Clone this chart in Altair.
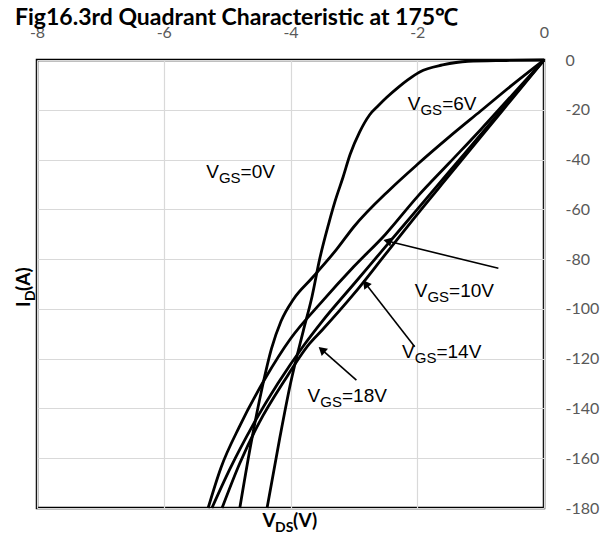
import math
import altair as alt
import pandas as pd

# ---- measured curves: drain-source voltage (V) vs drain current (A) ----
vds_0v = [0, -0.6, -1.2, -1.6, -1.96, -2.15, -2.3, -2.48, -2.62, -2.75, -2.91, -3.06,
          -3.17, -3.30, -3.40, -3.54, -3.66, -3.80, -4.00, -4.17, -4.37]
id_0v = [0, -0.2, -0.5, -2.0, -4.8, -8.0, -11.0, -15.0, -18.5, -22.0, -29.0, -38.0,
         -47.0, -57.0, -66.0, -80.0, -95.0, -109.0, -130.0, -152.0, -180.0]

vds_6v = [0, -0.5, -1.0, -1.5, -2.0, -2.43, -3.0, -3.27, -3.66, -3.95, -4.15, -4.3,
          -4.45, -4.63, -4.8]
id_6v = [0, -10, -20.5, -31, -42, -52, -67, -76, -87.6, -96, -105, -116,
         -132, -155, -180]

vds_10v = [0, -0.5, -1.0, -1.5, -2.0, -2.5, -3.0, -3.5, -4.0, -4.4, -4.8, -5.1, -5.3]
id_10v = [0, -14, -28, -41.5, -55, -70, -83, -97, -112, -128, -147, -164, -180]

vds_14v = [0, -0.5, -1.0, -1.5, -2.0, -2.5, -3.0, -3.5, -3.8, -4.2, -4.6, -4.95, -5.24]
id_14v = [0, -15, -30, -45, -60, -75, -90, -105, -115, -130, -147, -164, -180]

vds_18v = [0, -0.5, -1.0, -1.5, -2.0, -2.5, -3.0, -3.5, -3.7, -4.1, -4.5, -4.8, -5.08]
id_18v = [0, -15.5, -31, -46.5, -62, -78, -94, -108.5, -114, -129, -146, -162, -180]

curve_names = ["0V", "6V", "10V", "14V", "18V"]
curve_vds = [vds_0v, vds_6v, vds_10v, vds_14v, vds_18v]
curve_id = [id_0v, id_6v, id_10v, id_14v, id_18v]

# ---- annotations: label anchors (left edge / baseline) and arrows ----
label_values = ["=0V", "=6V", "=10V", "=14V", "=18V"]
label_vds = [-5.33, -2.15, -2.04, -2.24, -3.73]
label_id = [-47.4, -20.1, -95.2, -119.7, -137.4]

arrow_tail_vds = [-0.72, -2.04, -2.96]
arrow_tail_id = [-83.7, -115.2, -128.6]
arrow_head_vds = [-2.54, -2.86, -3.56]
arrow_head_id = [-72.3, -88.4, -115.2]

x_ticks = [-8, -6, -4, -2, 0]
y_ticks = [0, -20, -40, -60, -80, -100, -120, -140, -160, -180]

TITLE = "Fig16.3rd Quadrant Characteristic at 175℃"

# ---- layout / style ----
W, H = 507, 448
X_DOM, Y_DOM = [-8, 0], [-180, 0]
PX_PER_V = W / (X_DOM[1] - X_DOM[0])
PX_PER_A = H / (Y_DOM[1] - Y_DOM[0])
TICK_FONT = "Lato"
LABEL_FONT = "Liberation Sans"
MAIN_SIZE, SUB_SIZE = 19, 15
V_WIDTH = 12.7
GS_WIDTH = 21.7

xs = alt.Scale(domain=X_DOM, nice=False, zero=False)
ys = alt.Scale(domain=Y_DOM, nice=False, zero=False)

rows = []
for name, vv, ii in zip(curve_names, curve_vds, curve_id):
    for v, i in zip(vv, ii):
        rows.append({"curve": name, "vds": v, "id": i})
curves_df = pd.DataFrame(rows)

curves = alt.Chart(curves_df).mark_line(
    color="black", strokeWidth=2.8, interpolate="monotone"
).encode(
    x=alt.X("vds:Q", scale=xs, axis=alt.Axis(
        orient="top", values=x_ticks, grid=True, ticks=False, domain=False,
        labelFlush=False, labelOverlap=False, labelPadding=20, title=None,
        labelExpr="'' + datum.value")),
    y=alt.Y("id:Q", scale=ys, axis=alt.Axis(
        orient="right", values=y_ticks, grid=True, ticks=False, domain=False,
        labelFlush=False, labelOverlap=False, labelPadding=21, labelAlign="left",
        title=None, labelExpr="'' + datum.value")),
    detail="curve:N",
)

# label text pieces: "V", subscript "GS", then "=..."
lab_df = pd.DataFrame({"vds": label_vds, "id": label_id, "rest": label_values})
lab_base = alt.Chart(lab_df).encode(x=alt.X("vds:Q", scale=xs), y=alt.Y("id:Q", scale=ys))
lab_v = lab_base.mark_text(align="left", baseline="alphabetic", font=LABEL_FONT,
                           fontSize=MAIN_SIZE, color="black").encode(text=alt.value("V"))
lab_gs = lab_base.mark_text(align="left", baseline="alphabetic", font=LABEL_FONT,
                            fontSize=SUB_SIZE, color="black", dx=V_WIDTH, dy=5
                            ).encode(text=alt.value("GS"))
lab_rest = lab_base.mark_text(align="left", baseline="alphabetic", font=LABEL_FONT,
                              fontSize=MAIN_SIZE, color="black", dx=V_WIDTH + GS_WIDTH
                              ).encode(text="rest:N")

# arrows: shaft + triangular head oriented along the shaft in screen space
HEAD_BACK = 4.5
arr_rows = []
for tx, ty, hx, hy in zip(arrow_tail_vds, arrow_tail_id, arrow_head_vds, arrow_head_id):
    dxp = (hx - tx) * PX_PER_V
    dyp = -(hy - ty) * PX_PER_A
    length = math.hypot(dxp, dyp)
    ux, uy = dxp / length, dyp / length
    ang = math.degrees(math.atan2(ux, -uy)) % 360
    cx = hx - ux * HEAD_BACK / PX_PER_V
    cy = hy + uy * HEAD_BACK / PX_PER_A
    arr_rows.append({"tx": tx, "ty": ty, "cx": cx, "cy": cy, "ang": ang})
arr_df = pd.DataFrame(arr_rows)

shafts = alt.Chart(arr_df).mark_rule(color="black", strokeWidth=1.6).encode(
    x=alt.X("tx:Q", scale=xs), y=alt.Y("ty:Q", scale=ys),
    x2="cx:Q", y2="cy:Q")
heads = alt.Chart(arr_df).mark_point(shape="triangle-up", filled=True, color="black",
                                     opacity=1, size=90).encode(
    x=alt.X("cx:Q", scale=xs), y=alt.Y("cy:Q", scale=ys),
    angle=alt.Angle("ang:Q", scale=None))

# axis titles with subscripts
ax_x_df = pd.DataFrame({"vds": [-4.44], "id": [-187.5]})
ax_x_base = alt.Chart(ax_x_df).encode(x=alt.X("vds:Q", scale=xs), y=alt.Y("id:Q", scale=ys))
ax_x_v = ax_x_base.mark_text(align="left", baseline="alphabetic", font=TICK_FONT,
                             fontWeight="bold", fontSize=19, color="black"
                             ).encode(text=alt.value("V"))
ax_x_ds = ax_x_base.mark_text(align="left", baseline="alphabetic", font=TICK_FONT,
                              fontWeight="bold", fontSize=14, color="black", dx=12.5, dy=5
                              ).encode(text=alt.value("DS"))
ax_x_unit = ax_x_base.mark_text(align="left", baseline="alphabetic", font=TICK_FONT,
                                fontWeight="bold", fontSize=19, color="black", dx=30.5
                                ).encode(text=alt.value("(V)"))

ax_y_df = pd.DataFrame({"vds": [-8.11], "id": [-99.2]})
ax_y_base = alt.Chart(ax_y_df).encode(x=alt.X("vds:Q", scale=xs), y=alt.Y("id:Q", scale=ys))
ax_y_i = ax_y_base.mark_text(align="left", baseline="alphabetic", font=TICK_FONT,
                             fontWeight="bold", fontSize=19, color="black", angle=270
                             ).encode(text=alt.value("I"))
ax_y_d = ax_y_base.mark_text(align="left", baseline="alphabetic", font=TICK_FONT,
                             fontWeight="bold", fontSize=14, color="black", angle=270,
                             dx=6, dy=5).encode(text=alt.value("D"))
ax_y_unit = ax_y_base.mark_text(align="left", baseline="alphabetic", font=TICK_FONT,
                                fontWeight="bold", fontSize=19, color="black", angle=270,
                                dx=16).encode(text=alt.value("(A)"))

chart = alt.layer(
    curves, shafts, heads, lab_v, lab_gs, lab_rest,
    ax_x_v, ax_x_ds, ax_x_unit, ax_y_i, ax_y_d, ax_y_unit,
).properties(
    width=W, height=H,
    background="white",
    title=alt.TitleParams(TITLE, anchor="start", offset=0, dy=6, font=TICK_FONT,
                          fontSize=23, fontWeight="bold", color="black"),
    autosize=alt.AutoSizeParams(type="none"),
    padding={"left": 37, "top": 60, "right": 72, "bottom": 32},
).configure_view(
    stroke="black", strokeWidth=2.5
).configure_axis(
    gridColor="#d9d9d9", gridWidth=1.2, labelColor="#595959",
    labelFont=TICK_FONT, labelFontSize=16,
)

chart.save("out.html", embed_options={"renderer": "svg", "actions": False})
